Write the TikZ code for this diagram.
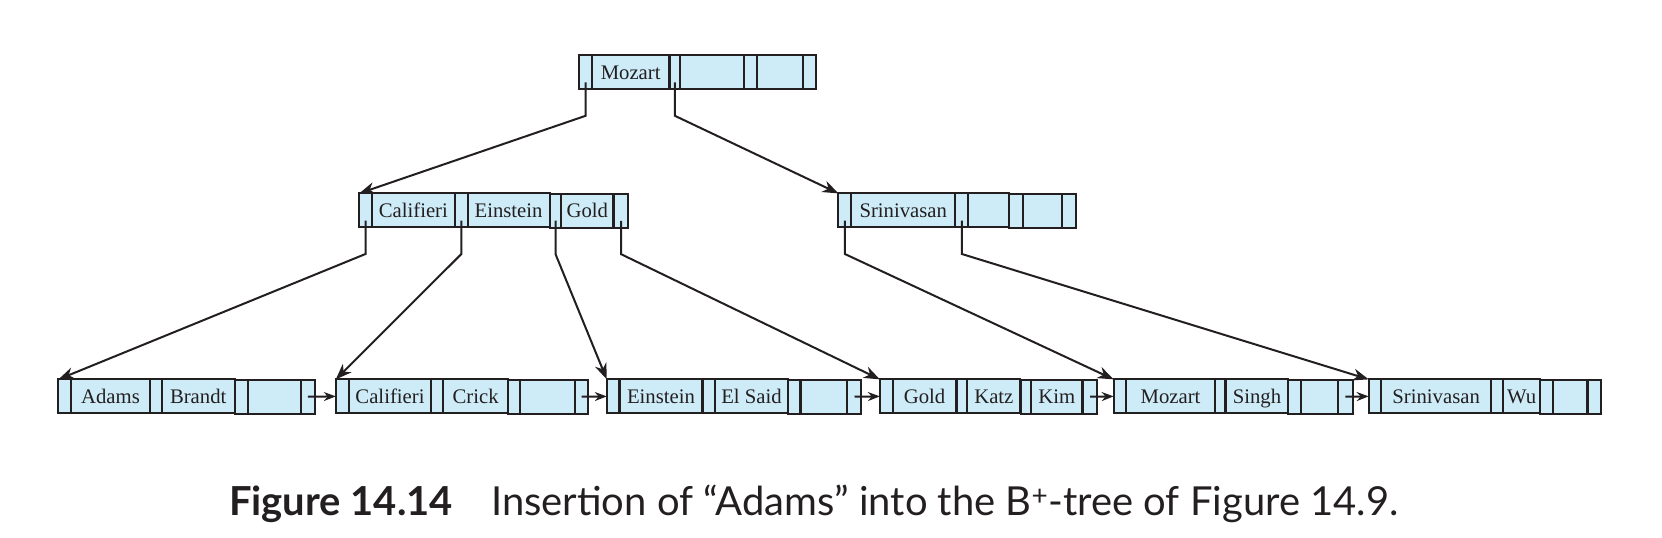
\documentclass[tikz,border=0pt]{standalone}
\usepackage{fontspec}
\usetikzlibrary{arrows.meta,calc}
\newfontfamily\nodefont{Liberation Serif}
\newfontfamily\capfont{Lato}
\newcommand\nfont{\nodefont\fontsize{19.5pt}{22pt}\selectfont}
\definecolor{cellfill}{RGB}{206,236,248}
\definecolor{lineclr}{RGB}{35,31,32}
\tikzset{
 cell/.style={draw=lineclr, fill=cellfill, line width=2pt, minimum height=32pt, inner sep=0pt, outer sep=0pt, font=\nfont, text=lineclr, text height=15pt, text depth=2pt, anchor=west},
 ptrcell/.style={cell, minimum width=#1},
 ptrcell/.default=12pt,
 keycell/.style={cell, minimum width=#1},
 conn/.style={draw=lineclr, line width=2pt, -{Stealth[length=16pt,width=12pt,inset=5pt]}},
 nextptr/.style={draw=lineclr, line width=2pt, -{Stealth[length=12pt,width=9pt,inset=4pt]}},
}
\begin{document}
\begin{tikzpicture}[x=1pt,y=-1pt,scale=1.0625,transform shape]
\useasboundingbox (0,0) rectangle (1564.24,506.35);
% root
\node[ptrcell] (r1) at (545,68) {};
\node[keycell=73pt] (r2) at (r1.east) {Mozart};
\node[ptrcell=10pt] (r3) at (r2.east) {};
\node[keycell=60pt] (r4) at (r3.east) {};
\node[ptrcell] (r5) at (r4.east) {};
\node[keycell=43pt] (r6) at (r5.east) {};
\node[ptrcell] (r7) at (r6.east) {};
% internal 1
\node[ptrcell] (a1) at (338,198) {};
\node[keycell=78pt] (a2) at (a1.east) {Califieri};
\node[ptrcell] (a3) at (a2.east) {};
\node[keycell=77pt] (a4) at (a3.east) {Einstein};
\node[ptrcell=11pt] (a5) at (a4.east) {};
\node[keycell=49pt] (a6) at (a5.east) {Gold};
\node[ptrcell=14pt] (a7) at (a6.east) {};
% internal 2
\node[ptrcell] (b1) at (789,198) {};
\node[keycell=98pt] (b2) at (b1.east) {Srinivasan};
\node[ptrcell] (b3) at (b2.east) {};
\node[keycell=38pt] (b4) at (b3.east) {};
\node[ptrcell=13pt] (b5) at (b4.east) {};
\node[keycell=37pt] (b6) at (b5.east) {};
\node[ptrcell=13pt] (b7) at (b6.east) {};
% leaf 1
\node[ptrcell] (la1) at (55,373) {};
\node[keycell=74pt] (la2) at (la1.east) {Adams};
\node[ptrcell=11pt] (la3) at (la2.east) {};
\node[keycell=69pt] (la4) at (la3.east) {Brandt};
\node[ptrcell] (la5) at (la4.east) {};
\node[keycell=50pt] (la6) at (la5.east) {};
\node[ptrcell=13pt] (la7) at (la6.east) {};
% leaf 2
\node[ptrcell] (lb1) at (316,373) {};
\node[keycell=78pt] (lb2) at (lb1.east) {Califieri};
\node[ptrcell=11pt] (lb3) at (lb2.east) {};
\node[keycell=61pt] (lb4) at (lb3.east) {Crick};
\node[ptrcell=11pt] (lb5) at (lb4.east) {};
\node[keycell=52pt] (lb6) at (lb5.east) {};
\node[ptrcell] (lb7) at (lb6.east) {};
% leaf 3
\node[ptrcell] (lc1) at (571,373) {};
\node[keycell=78pt] (lc2) at (lc1.east) {Einstein};
\node[ptrcell] (lc3) at (lc2.east) {};
\node[keycell=68pt] (lc4) at (lc3.east) {El Said};
\node[ptrcell] (lc5) at (lc4.east) {};
\node[keycell=44pt] (lc6) at (lc5.east) {};
\node[ptrcell=13pt] (lc7) at (lc6.east) {};
% leaf 4
\node[ptrcell] (ld1) at (828,373) {};
\node[keycell=60pt] (ld2) at (ld1.east) {Gold};
\node[ptrcell=10pt] (ld3) at (ld2.east) {};
\node[keycell=50pt] (ld4) at (ld3.east) {Katz};
\node[ptrcell=10pt] (ld5) at (ld4.east) {};
\node[keycell=48pt] (ld6) at (ld5.east) {Kim};
\node[ptrcell=14pt] (ld7) at (ld6.east) {};
% leaf 5
\node[ptrcell] (le1) at (1048,373) {};
\node[keycell=83pt] (le2) at (le1.east) {Mozart};
\node[ptrcell=10pt] (le3) at (le2.east) {};
\node[keycell=59pt] (le4) at (le3.east) {Singh};
\node[ptrcell] (le5) at (le4.east) {};
\node[keycell=34pt] (le6) at (le5.east) {};
\node[ptrcell=14pt] (le7) at (le6.east) {};
% leaf 6
\node[ptrcell] (lf1) at (1288,373) {};
\node[keycell=103pt] (lf2) at (lf1.east) {Srinivasan};
\node[ptrcell=11pt] (lf3) at (lf2.east) {};
\node[keycell=35pt] (lf4) at (lf3.east) {Wu};
\node[ptrcell] (lf5) at (lf4.east) {};
\node[keycell=32pt] (lf6) at (lf5.east) {};
\node[ptrcell=13pt] (lf7) at (lf6.east) {};
% tree pointers
\foreach \s/\t in {r1/a1, r3/b1, a1/la1, a3/lb1, a5/lc1, a7/ld1, b1/le1, b3/lf1}{
  \draw[conn] ($(\s.center)!.6!(\s.south)$) -- ($(\s.south)+(0,25)$) -- (\t.north west);
}
% leaf chain
\foreach \s/\t in {la7/lb1, lb7/lc1, lc7/ld1, ld7/le1, le7/lf1}{
  \draw[nextptr] (\s.center) -- (\t.west);
}
% caption
\node[anchor=base, inner sep=0pt, font=\capfont\fontsize{37.6pt}{42pt}\selectfont, text=lineclr] (cap) at (766,485)
 {\textbf{Figure 14.14}\hspace{36pt}Insertion of “Adams” into the B\textsuperscript{+}-tree of Figure 14.9.};
\end{tikzpicture}
\end{document}
